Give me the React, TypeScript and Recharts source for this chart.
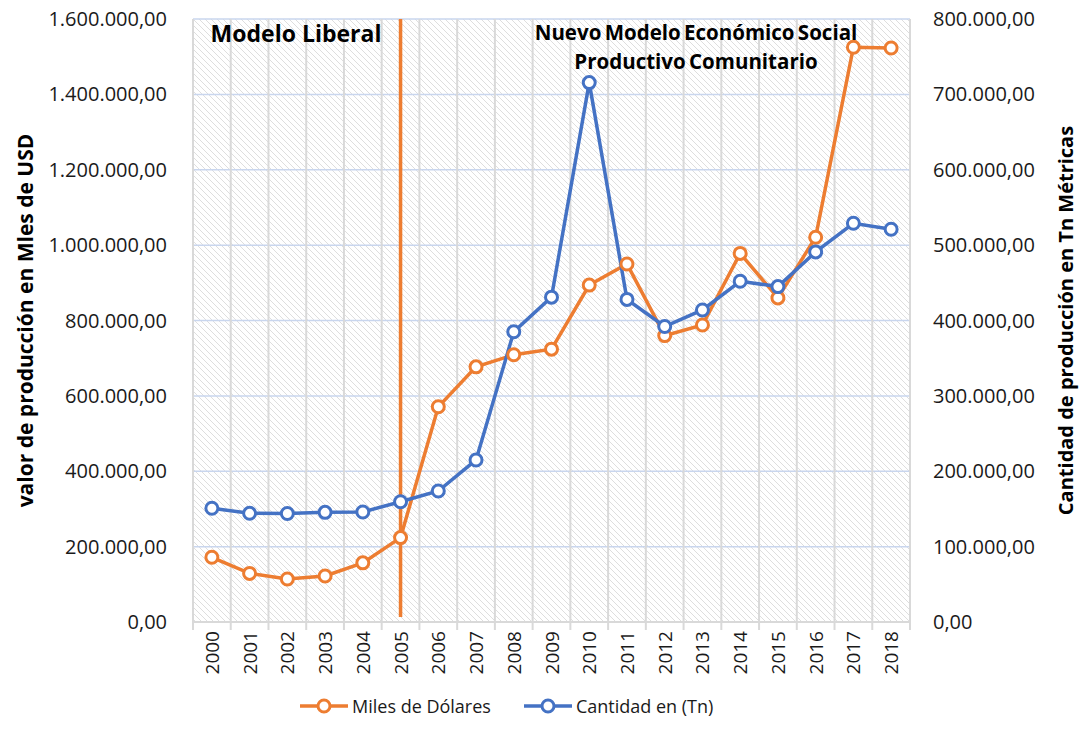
import React from "react";
import {
  LineChart,
  Line,
  XAxis,
  YAxis,
  CartesianGrid,
  ReferenceLine,
  Legend,
} from "recharts";

const years = [
  "2000", "2001", "2002", "2003", "2004", "2005", "2006", "2007", "2008", "2009",
  "2010", "2011", "2012", "2013", "2014", "2015", "2016", "2017", "2018",
];

// Miles de Dólares (left axis)
const milesUsd = [
  171700, 129000, 114000, 122000, 157000, 224000, 571000, 677000, 709000, 724000,
  894000, 950000, 760000, 788000, 978000, 860000, 1021000, 1525000, 1523000,
];

// Cantidad en (Tn) (right axis)
const cantidadTn = [
  150900, 144200, 144000, 145500, 146000, 159600, 173800, 215000, 385000, 431000,
  715600, 428000, 392000, 414000, 452000, 445000, 491000, 529000, 521000,
];

const leftTicks = [0, 200000, 400000, 600000, 800000, 1000000, 1200000, 1400000, 1600000];
const rightTicks = [0, 100000, 200000, 300000, 400000, 500000, 600000, 700000, 800000];

const ORANGE = "#ED7D31";
const BLUE = "#4472C4";
const FONT = "'Open Sans', 'Noto Sans', sans-serif";

const data = years.map((year, idx) => ({
  idx,
  year,
  usd: milesUsd[idx],
  tn: cantidadTn[idx],
}));

const yearTicks = years.map((_, i) => i);
const boundaryTicks = [...years.map((_, i) => i - 0.5), years.length - 0.5];
const xDomain: [number, number] = [-0.5, years.length - 0.5];

const fmt = (v: number) =>
  Math.round(v).toString().replace(/\B(?=(\d{3})+(?!\d))/g, ".") + ",00";

// grid lines sit on the category boundaries, like Excel
const boundaryCoords = (props: any) => {
  const { xAxis, offset } = props;
  if (xAxis && typeof xAxis.scale === "function") {
    return boundaryTicks.map((t) => xAxis.scale(t));
  }
  return boundaryTicks.map((_, i) => offset.left + (offset.width * i) / years.length);
};

const YearTick = (props: any) => {
  const { x, y, payload } = props;
  return (
    <text
      x={x}
      y={y}
      transform={`rotate(-90, ${x}, ${y})`}
      textAnchor="end"
      dominantBaseline="central"
      fontFamily={FONT}
      fontSize={19}
      fill="#1a1a1a"
    >
      {years[payload.value]}
    </text>
  );
};

const LegendIcon = ({ color }: { color: string }) => (
  <svg width={48} height={16} style={{ display: "block" }}>
    <line x1={0} y1={8} x2={48} y2={8} stroke={color} strokeWidth={3.5} />
    <circle cx={24} cy={8} r={6} fill="#fff" stroke={color} strokeWidth={3} />
  </svg>
);

const legendItems = [
  { label: "Miles de Dólares", color: ORANGE },
  { label: "Cantidad en (Tn)", color: BLUE },
];

const CustomLegend = () => (
  <div
    style={{
      display: "flex",
      alignItems: "center",
      paddingLeft: 300,
      gap: 33,
      fontFamily: FONT,
      fontSize: 18,
      color: "#1a1a1a",
    }}
  >
    {legendItems.map((it) => (
      <div key={it.label} style={{ display: "flex", alignItems: "center", gap: 4 }}>
        <LegendIcon color={it.color} />
        <span>{it.label}</span>
      </div>
    ))}
  </div>
);

const axisTitle = (text: string, dx: number, size: number) => (props: any) => {
  const vb = props.viewBox;
  const cx = vb.x + dx;
  const cy = vb.y + vb.height / 2;
  return (
    <text
      x={cx}
      y={cy}
      transform={`rotate(-90, ${cx}, ${cy})`}
      textAnchor="middle"
      dominantBaseline="central"
      fontFamily={FONT}
      fontWeight={700}
      fontSize={size}
      fill="#000"
    >
      {text}
    </text>
  );
};

const tickStyle = { fontFamily: FONT, fontSize: 20, fill: "#1a1a1a" };

export default function App() {
  return (
    <div style={{ position: "absolute", left: 0, top: 0, width: 1083, height: 738, background: "#fff" }}>
      <svg width={0} height={0} style={{ position: "absolute" }}>
        <defs>
          <pattern id="hatch" patternUnits="userSpaceOnUse" width={6} height={6}>
            <rect width={6} height={6} fill="#fff" />
            <path d="M0,0 L6,6 M-3,3 L3,9 M3,-3 L9,3" stroke="#dadada" strokeWidth={0.9} />
          </pattern>
        </defs>
      </svg>
      <LineChart
        width={1083}
        height={738}
        data={data}
        margin={{ top: 19, right: 0, bottom: 8, left: 0 }}
      >
        <CartesianGrid
          xAxisId="yr"
          yAxisId="left"
          vertical={false}
          stroke="#C9D6EE"
          strokeWidth={1.5}
          fill="url(#hatch)"
          fillOpacity={1}
        />
        <CartesianGrid
          xAxisId="yr"
          yAxisId="left"
          horizontal={false}
          verticalCoordinatesGenerator={boundaryCoords}
          stroke="#d9d9d9"
          strokeWidth={2}
        />
        <XAxis
          xAxisId="grid"
          dataKey="idx"
          type="number"
          domain={xDomain}
          ticks={boundaryTicks}
          interval={0}
          tick={<g />}
          tickSize={8}
          tickLine={{ stroke: "#d9d9d9", strokeWidth: 2 }}
          axisLine={{ stroke: "#d9d9d9", strokeWidth: 2 }}
          height={1}
          allowDataOverflow
        />
        <XAxis
          xAxisId="yr"
          dataKey="idx"
          type="number"
          domain={xDomain}
          ticks={yearTicks}
          interval={0}
          tick={<YearTick />}
          tickLine={false}
          axisLine={false}
          height={71}
          allowDataOverflow
        />
        <YAxis
          yAxisId="left"
          domain={[0, 1600000]}
          ticks={leftTicks}
          tickFormatter={fmt}
          tick={tickStyle}
          tickLine={false}
          axisLine={false}
          tickMargin={20}
          width={193}
          label={{ content: axisTitle("valor de producción en Mles de USD", 25, 21) }}
        />
        <YAxis
          yAxisId="right"
          orientation="right"
          domain={[0, 800000]}
          ticks={rightTicks}
          tickFormatter={fmt}
          tick={tickStyle}
          tickLine={false}
          axisLine={false}
          tickMargin={17}
          width={173}
          label={{ content: axisTitle("Cantidad de producción en Tn Métricas", 155, 20) }}
        />
        <Legend verticalAlign="bottom" height={36} content={<CustomLegend />} wrapperStyle={{ left: 0, width: 1083 }} />
        <Line
          xAxisId="yr"
          yAxisId="left"
          dataKey="usd"
          name="Miles de Dólares"
          stroke={ORANGE}
          strokeWidth={3.5}
          dot={{ r: 6, fill: "#fff", stroke: ORANGE, strokeWidth: 3 }}
          activeDot={false}
          isAnimationActive={false}
        />
        <Line
          xAxisId="yr"
          yAxisId="right"
          dataKey="tn"
          name="Cantidad en (Tn)"
          stroke={BLUE}
          strokeWidth={3.5}
          dot={{ r: 6, fill: "#fff", stroke: BLUE, strokeWidth: 3 }}
          activeDot={false}
          isAnimationActive={false}
        />
        <ReferenceLine
          xAxisId="yr"
          yAxisId="left"
          segment={[
            { x: 5, y: 1600000 },
            { x: 5, y: 13000 },
          ]}
          stroke={ORANGE}
          strokeWidth={3.5}
        />
      </LineChart>
      <div
        style={{
          position: "absolute",
          left: 296,
          top: 33,
          transform: "translate(-50%, -50%)",
          fontFamily: FONT,
          fontWeight: 700,
          fontSize: 23,
          whiteSpace: "nowrap",
          lineHeight: 1,
        }}
      >
        Modelo Liberal
      </div>
      <div
        style={{
          position: "absolute",
          left: 696,
          top: 47,
          transform: "translate(-50%, -50%)",
          fontFamily: FONT,
          fontWeight: 700,
          fontSize: 20.5,
          whiteSpace: "nowrap",
          lineHeight: "29px",
          textAlign: "center",
          wordSpacing: -2,
        }}
      >
        Nuevo Modelo Económico Social
        <br />
        Productivo Comunitario
      </div>
    </div>
  );
}
